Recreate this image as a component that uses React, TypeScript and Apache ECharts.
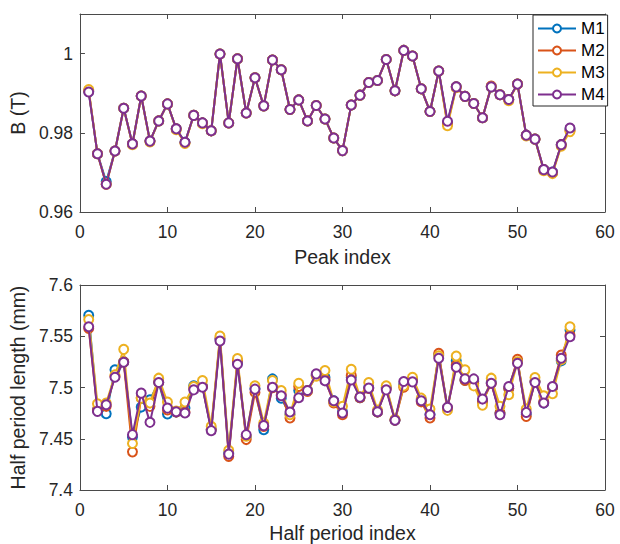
import React, { useEffect, useRef } from "react";
import * as echarts from "echarts";

const seriesNames = ["M1", "M2", "M3", "M4"];
const seriesColors = ["#0072BD", "#D95319", "#EDB120", "#7E2F8E"];

// Top panel: B (T) vs peak index
const peakM1 = [
  0.9904, 0.9747, 0.9677, 0.9754, 0.9862, 0.9772, 0.9893, 0.9779, 0.9830, 0.9873,
  0.9810, 0.9776, 0.9844, 0.9825, 0.9805, 0.9999, 0.9825, 0.9987, 0.9850, 0.9939,
  0.9868, 0.9984, 0.9959, 0.9859, 0.9883, 0.9830, 0.9869, 0.9835, 0.9787, 0.9755,
  0.9870, 0.9895, 0.9927, 0.9932, 0.9985, 0.9906, 1.0008, 0.9994, 0.9911, 0.9854,
  0.9956, 0.9826, 0.9916, 0.9892, 0.9874, 0.9838, 0.9916, 0.9896, 0.9884, 0.9923,
  0.9794, 0.9784, 0.9707, 0.9701, 0.9770, 0.9809,
];
const peakM2 = [
  0.9906, 0.9747, 0.9670, 0.9754, 0.9862, 0.9772, 0.9893, 0.9779, 0.9830, 0.9873,
  0.9810, 0.9775, 0.9844, 0.9825, 0.9805, 0.9999, 0.9825, 0.9987, 0.9850, 0.9939,
  0.9868, 0.9984, 0.9959, 0.9859, 0.9883, 0.9830, 0.9869, 0.9835, 0.9787, 0.9755,
  0.9870, 0.9895, 0.9927, 0.9932, 0.9985, 0.9906, 1.0008, 0.9994, 0.9911, 0.9854,
  0.9956, 0.9822, 0.9916, 0.9892, 0.9874, 0.9838, 0.9918, 0.9896, 0.9884, 0.9923,
  0.9794, 0.9784, 0.9707, 0.9699, 0.9770, 0.9806,
];
const peakM3 = [
  0.9909, 0.9747, 0.9670, 0.9754, 0.9862, 0.9770, 0.9893, 0.9777, 0.9830, 0.9873,
  0.9808, 0.9773, 0.9844, 0.9823, 0.9805, 0.9999, 0.9825, 0.9987, 0.9850, 0.9939,
  0.9868, 0.9984, 0.9959, 0.9859, 0.9883, 0.9830, 0.9869, 0.9835, 0.9787, 0.9755,
  0.9870, 0.9895, 0.9927, 0.9932, 0.9985, 0.9906, 1.0008, 0.9994, 0.9911, 0.9854,
  0.9956, 0.9818, 0.9914, 0.9892, 0.9874, 0.9838, 0.9916, 0.9896, 0.9881, 0.9923,
  0.9792, 0.9784, 0.9704, 0.9697, 0.9766, 0.9803,
];
const peakM4 = [
  0.9903, 0.9747, 0.9670, 0.9754, 0.9862, 0.9772, 0.9893, 0.9779, 0.9830, 0.9873,
  0.9810, 0.9776, 0.9844, 0.9825, 0.9805, 0.9999, 0.9825, 0.9987, 0.9850, 0.9939,
  0.9868, 0.9984, 0.9959, 0.9859, 0.9883, 0.9830, 0.9869, 0.9835, 0.9787, 0.9755,
  0.9870, 0.9895, 0.9927, 0.9932, 0.9985, 0.9906, 1.0008, 0.9994, 0.9911, 0.9854,
  0.9956, 0.9829, 0.9916, 0.9892, 0.9874, 0.9838, 0.9916, 0.9896, 0.9884, 0.9923,
  0.9794, 0.9784, 0.9707, 0.9701, 0.9770, 0.9812,
];

// Bottom panel: half period length (mm) vs half period index
const halfM1 = [
  7.5705, 7.478, 7.4744, 7.5172, 7.525, 7.4518, 7.4809, 7.488, 7.505, 7.4741,
  7.476, 7.480, 7.5016, 7.501, 7.459, 7.547, 7.436, 7.524, 7.452, 7.499,
  7.4589, 7.5084, 7.4895, 7.474, 7.497, 7.497, 7.5122, 7.510, 7.487, 7.476,
  7.510, 7.490, 7.500, 7.476, 7.500, 7.468, 7.503, 7.508, 7.488, 7.474,
  7.532, 7.480, 7.526, 7.507, 7.506, 7.487, 7.505, 7.475, 7.499, 7.526,
  7.474, 7.506, 7.485, 7.500, 7.526, 7.556,
];
const halfM2 = [
  7.5576, 7.478, 7.4816, 7.511, 7.525, 7.4372, 7.490, 7.4816, 7.505, 7.478,
  7.476, 7.476, 7.499, 7.501, 7.459, 7.548, 7.4327, 7.526, 7.4492, 7.4951,
  7.462, 7.4997, 7.493, 7.4702, 7.501, 7.4961, 7.512, 7.508, 7.4849, 7.4735,
  7.512, 7.490, 7.499, 7.476, 7.499, 7.468, 7.5003, 7.507, 7.486, 7.4702,
  7.5333, 7.480, 7.522, 7.5068, 7.504, 7.486, 7.504, 7.4751, 7.499, 7.5275,
  7.4718, 7.506, 7.486, 7.500, 7.5317, 7.5512,
];
const halfM3 = [
  7.5663, 7.4841, 7.4848, 7.5123, 7.5372, 7.4453, 7.4896, 7.4848, 7.5091, 7.4858,
  7.477, 7.4858, 7.501, 7.5068, 7.4621, 7.5502, 7.4388, 7.5282, 7.4524, 7.5016,
  7.4654, 7.5068, 7.4971, 7.4735, 7.5042, 7.497, 7.511, 7.5165, 7.486, 7.4816,
  7.5178, 7.491, 7.5049, 7.478, 7.5016, 7.469, 7.5016, 7.510, 7.4896, 7.479,
  7.531, 7.4777, 7.5307, 7.5172, 7.5016, 7.4828, 7.5091, 7.4816, 7.4929, 7.525,
  7.479, 7.5097, 7.4919, 7.4939, 7.527, 7.5592,
];
const halfM4 = [
  7.5592, 7.4767, 7.4832, 7.510, 7.5246, 7.454, 7.4945, 7.466, 7.5049, 7.4799,
  7.4764, 7.4751, 7.4977, 7.5003, 7.4579, 7.5453, 7.435, 7.5227, 7.454, 7.4984,
  7.4628, 7.5003, 7.4919, 7.4761, 7.490, 7.4971, 7.5133, 7.5065, 7.4871, 7.4751,
  7.5074, 7.4906, 7.4994, 7.4764, 7.4977, 7.468, 7.5058, 7.5055, 7.4871, 7.4735,
  7.5285, 7.4806, 7.5197, 7.5084, 7.5084, 7.4887, 7.5042, 7.4735, 7.501, 7.5236,
  7.4757, 7.5049, 7.4848, 7.501, 7.5285, 7.5495,
];

const topTickLabels = ["0.96", "0.98", "1"];
const bottomTickLabels = ["7.4", "7.45", "7.5", "7.55", "7.6"];
const xTickLabels = ["0", "10", "20", "30", "40", "50", "60"];

const peakSets = [peakM1, peakM2, peakM3, peakM4];
const halfSets = [halfM1, halfM2, halfM3, halfM4];

const FONT = "'Liberation Sans', Arial, Helvetica, sans-serif";
const TXT = "#262626";
const AXC = "#4a4a4a";

function App() {
  const ref = useRef<HTMLDivElement>(null);
  useEffect(() => {
    if (!ref.current) return;
    const chart = echarts.init(ref.current, undefined, { renderer: "svg" });

    const lineStyle = { color: AXC, width: 1 };
    const labelStyle = { color: TXT, fontSize: 17.5, fontFamily: FONT };

    const pickLabel = (labels: string[]) => (v: number) => {
      const s = labels.find((l) => Math.abs(parseFloat(l) - v) < 1e-6);
      return s === undefined ? "" : s;
    };

    const mkX = (grid: number, pos: "bottom" | "top", name: string, nameGap: number) => ({
      type: "value",
      gridIndex: grid,
      position: pos,
      min: 0,
      max: 60,
      interval: 10,
      name: pos === "bottom" ? name : "",
      nameLocation: "middle",
      nameGap,
      nameTextStyle: { color: TXT, fontSize: 19.5, fontFamily: FONT },
      axisLine: { show: true, onZero: false, lineStyle },
      axisTick: { show: true, inside: true, length: 5, lineStyle },
      axisLabel: {
        show: pos === "bottom",
        margin: 11,
        ...labelStyle,
        formatter: pickLabel(xTickLabels),
      },
      splitLine: { show: false },
    });

    const mkY = (
      grid: number,
      pos: "left" | "right",
      min: number,
      max: number,
      interval: number,
      labels: string[],
      name: string,
      nameGap: number
    ) => ({
      type: "value",
      gridIndex: grid,
      position: pos,
      min,
      max,
      interval,
      name: pos === "left" ? name : "",
      nameLocation: "middle",
      nameGap,
      nameTextStyle: { color: TXT, fontSize: 19.5, fontFamily: FONT },
      axisLine: { show: true, onZero: false, lineStyle },
      axisTick: { show: true, inside: true, length: 5, lineStyle },
      axisLabel: {
        show: pos === "left",
        margin: 7,
        showMaxLabel: labels.some((l) => Math.abs(parseFloat(l) - max) < 1e-6),
        ...labelStyle,
        formatter: pickLabel(labels),
      },
      splitLine: { show: false },
    });

    const series: any[] = [];
    [peakSets, halfSets].forEach((sets, g) => {
      sets.forEach((vals, k) => {
        series.push({
          type: "line",
          name: seriesNames[k],
          xAxisIndex: g * 2,
          yAxisIndex: g * 2,
          data: vals.map((v, i) => [i + 1, v]),
          symbol: "emptyCircle",
          symbolSize: 9,
          showAllSymbol: true,
          color: seriesColors[k],
          lineStyle: { width: 2, color: seriesColors[k] },
          itemStyle: { color: seriesColors[k], borderColor: seriesColors[k], borderWidth: 1.8 },
          emphasis: { disabled: true },
          z: 2 + k,
        });
      });
    });

    chart.setOption({
      animation: false,
      backgroundColor: "#ffffff",
      textStyle: { fontFamily: FONT },
      grid: [
        { left: 75, top: 14, width: 530, height: 198 },
        { left: 75, top: 285, width: 530, height: 206 },
      ],
      legend: {
        data: seriesNames,
        orient: "vertical",
        left: 533,
        top: 15,
        padding: [5, 3, 3, 4],
        itemGap: 5,
        itemWidth: 38,
        itemHeight: 10,
        itemTextGap: 3,
        borderColor: TXT,
        borderWidth: 1,
        backgroundColor: "#ffffff",
        textStyle: { color: "#000", fontSize: 17, fontFamily: FONT },
        selectedMode: false,
      },
      xAxis: [
        mkX(0, "bottom", "Peak index", 35),
        mkX(0, "top", "", 0),
        mkX(1, "bottom", "Half period index", 33),
        mkX(1, "top", "", 0),
      ],
      yAxis: [
        mkY(0, "left", 0.96, 1.01, 0.02, topTickLabels, "B (T)", 42),
        mkY(0, "right", 0.96, 1.01, 0.02, topTickLabels, "", 0),
        mkY(1, "left", 7.4, 7.6, 0.05, bottomTickLabels, "Half period length (mm)", 40),
        mkY(1, "right", 7.4, 7.6, 0.05, bottomTickLabels, "", 0),
      ],
      series,
    });
    return () => chart.dispose();
  }, []);

  return (
    <div
      ref={ref}
      style={{ position: "fixed", left: 0, top: 0, width: 620, height: 544, background: "#fff" }}
    />
  );
}

export default App;
